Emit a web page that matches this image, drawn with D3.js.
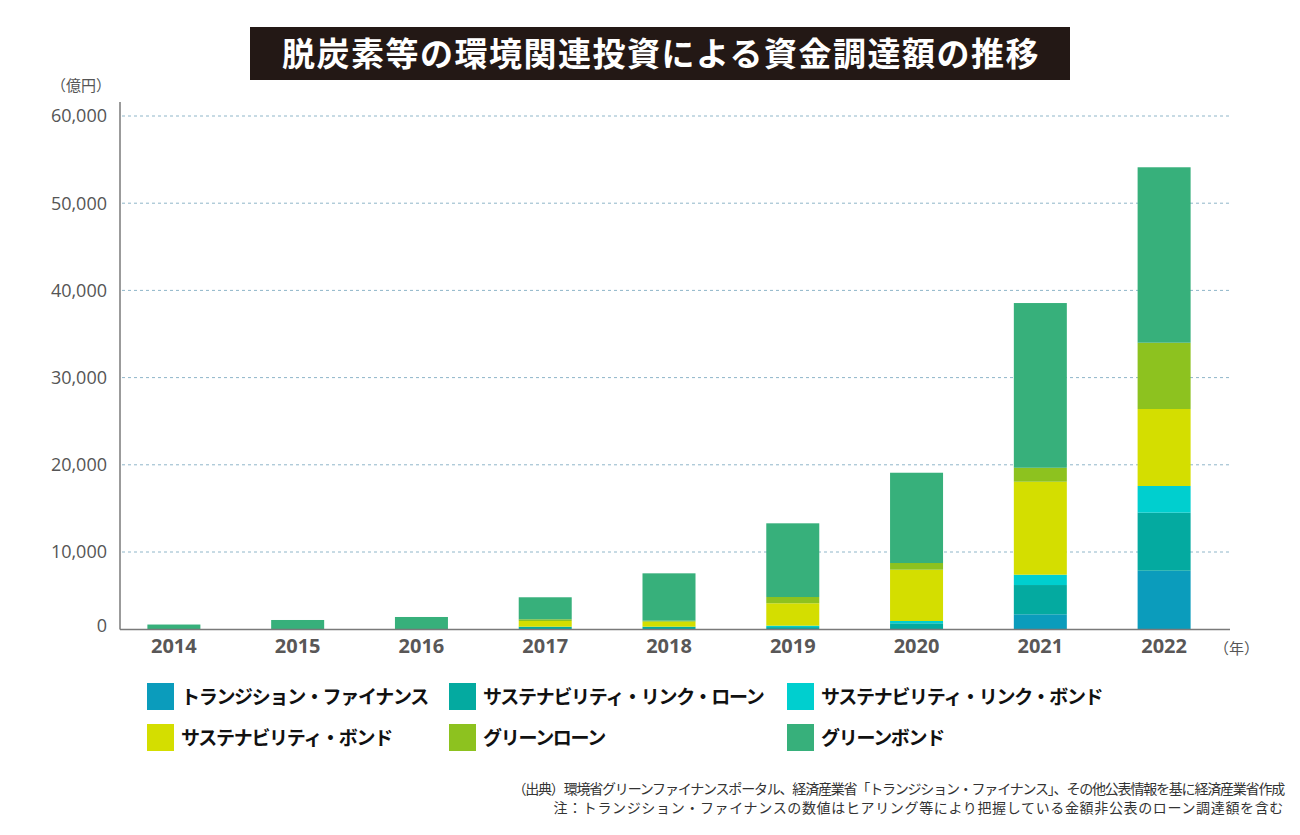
<!DOCTYPE html>
<html><head><meta charset="utf-8">
<script src="https://cdn.jsdelivr.net/npm/d3@7"></script>
<style>
html,body{margin:0;padding:0;background:#fff;}
svg{display:block;}
</style>
</head><body>
<svg id="c" width="1300" height="835"></svg>
<script>
const years = ["2014","2015","2016","2017","2018","2019","2020","2021","2022"];
const transitionFinance = [0,0,0,0,0,0,0,1910,7570];
const sustainabilityLinkLoan = [0,0,0,300,300,250,740,3800,6940];
const sustainabilityLinkBond = [0,0,0,0,0,180,300,1340,3060];
const sustainabilityBond = [0,0,0,740,650,2910,6660,11010,8830];
const greenLoan = [0,0,0,220,130,815,870,1600,7600];
const greenBond = [580,1170,1560,2860,6150,9135,10520,18890,20120];
const seriesNames = ["トランジション・ファイナンス","サステナビリティ・リンク・ローン","サステナビリティ・リンク・ボンド","サステナビリティ・ボンド","グリーンローン","グリーンボンド"];
const yTicks = [0,10000,20000,30000,40000,50000,60000];
const titleText = "脱炭素等の環境関連投資による資金調達額の推移";
const yUnit = "（億円）";
const xUnit = "（年）";
const notes = ["（出典）環境省グリーンファイナンスポータル、経済産業省「トランジション・ファイナンス」、その他公表情報を基に経済産業省作成",
               "注：トランジション・ファイナンスの数値はヒアリング等により把握している金額非公表のローン調達額を含む"];

const colors = ["#0b9cbc","#04aaa0","#00cfcf","#d4de00","#8dc21f","#37b07b"];
const seriesArrays = [transitionFinance,sustainabilityLinkLoan,sustainabilityLinkBond,sustainabilityBond,greenLoan,greenBond];
const rows = years.map((y,i)=>{const o={year:y}; seriesNames.forEach((k,j)=>o[k]=seriesArrays[j][i]); return o;});

const svg = d3.select("#c");
const jp = "'Noto Sans CJK JP','Noto Sans',sans-serif";
const num = "'Open Sans','Noto Sans',sans-serif";

// title
svg.append("rect").attr("x",250).attr("y",27).attr("width",820).attr("height",53).attr("fill","#231815");
svg.append("text").attr("x",661).attr("y",66).attr("text-anchor","middle")
  .attr("font-family",jp).attr("font-weight",700).attr("font-size",33).attr("letter-spacing","1.5px")
  .attr("fill","#fff").text(titleText);

const x = d3.scalePoint().domain(years).range([112,1226]).padding(0.5);
const y = d3.scaleLinear().domain([0,10000,60000]).range([629,552,116]);
const barW = 53;

// gridlines
svg.append("g").selectAll("line").data(yTicks.filter(d=>d>0)).join("line")
  .attr("x1",122).attr("x2",1230).attr("y1",d=>y(d)).attr("y2",d=>y(d))
  .attr("stroke","#8fb6c9").attr("stroke-width",1).attr("stroke-dasharray","3,3");

// y labels
svg.append("g").selectAll("text").data(yTicks).join("text")
  .attr("x",107).attr("y",d=>d===0?y(d)-3:y(d)).attr("dy","0.35em").attr("text-anchor","end")
  .attr("font-family",num).attr("font-size",18).attr("fill","#555").text(d=>d3.format(",")(d));
svg.append("text").attr("x",111).attr("y",91).attr("text-anchor","end")
  .attr("font-family",jp).attr("font-size",15).attr("fill","#555").text(yUnit);

// bars
const stack = d3.stack().keys(seriesNames)(rows);
svg.append("g").selectAll("g").data(stack).join("g").attr("fill",(d,i)=>colors[i])
  .selectAll("rect").data(d=>d).join("rect")
  .attr("x",d=>x(d.data.year)-barW/2).attr("width",barW)
  .attr("y",d=>y(d[1])).attr("height",d=>Math.max(0,y(d[0])-y(d[1])));

// axes lines
svg.append("line").attr("x1",120).attr("x2",120).attr("y1",102).attr("y2",629.5).attr("stroke","#7a7a7a").attr("stroke-width",1.5);
svg.append("line").attr("x1",120).attr("x2",1230).attr("y1",629.5).attr("y2",629.5).attr("stroke","#7a7a7a").attr("stroke-width",1.5);

// x labels
svg.append("g").selectAll("text").data(years).join("text")
  .attr("x",d=>x(d)).attr("y",653).attr("text-anchor","middle")
  .attr("font-family",num).attr("font-weight",700).attr("font-size",20).attr("fill","#595757").text(d=>d);
svg.append("text").attr("x",1214).attr("y",654)
  .attr("font-family",jp).attr("font-size",15).attr("fill","#555").text(xUnit);

// legend
const legX = [147,449,787];
const legY = [683,724];
const lg = svg.append("g").selectAll("g").data(seriesNames).join("g")
  .attr("transform",(d,i)=>`translate(${legX[i%3]},${legY[Math.floor(i/3)]})`);
lg.append("rect").attr("width",27).attr("height",27).attr("fill",(d,i)=>colors[i]);
lg.append("text").attr("x",34).attr("y",21).attr("font-family",jp).attr("font-weight",700)
  .attr("font-size",19).attr("letter-spacing","-1.3px").attr("fill","#111").text(d=>d);

// notes
const noteSpacing = ["-1.2px","0.65px"];
svg.append("g").selectAll("text").data(notes).join("text")
  .attr("x",1284).attr("y",(d,i)=>794+i*19).attr("text-anchor","end")
  .attr("letter-spacing",(d,i)=>noteSpacing[i])
  .attr("font-family",jp).attr("font-size",14).attr("fill","#333").text(d=>d);
</script>
</body></html>
